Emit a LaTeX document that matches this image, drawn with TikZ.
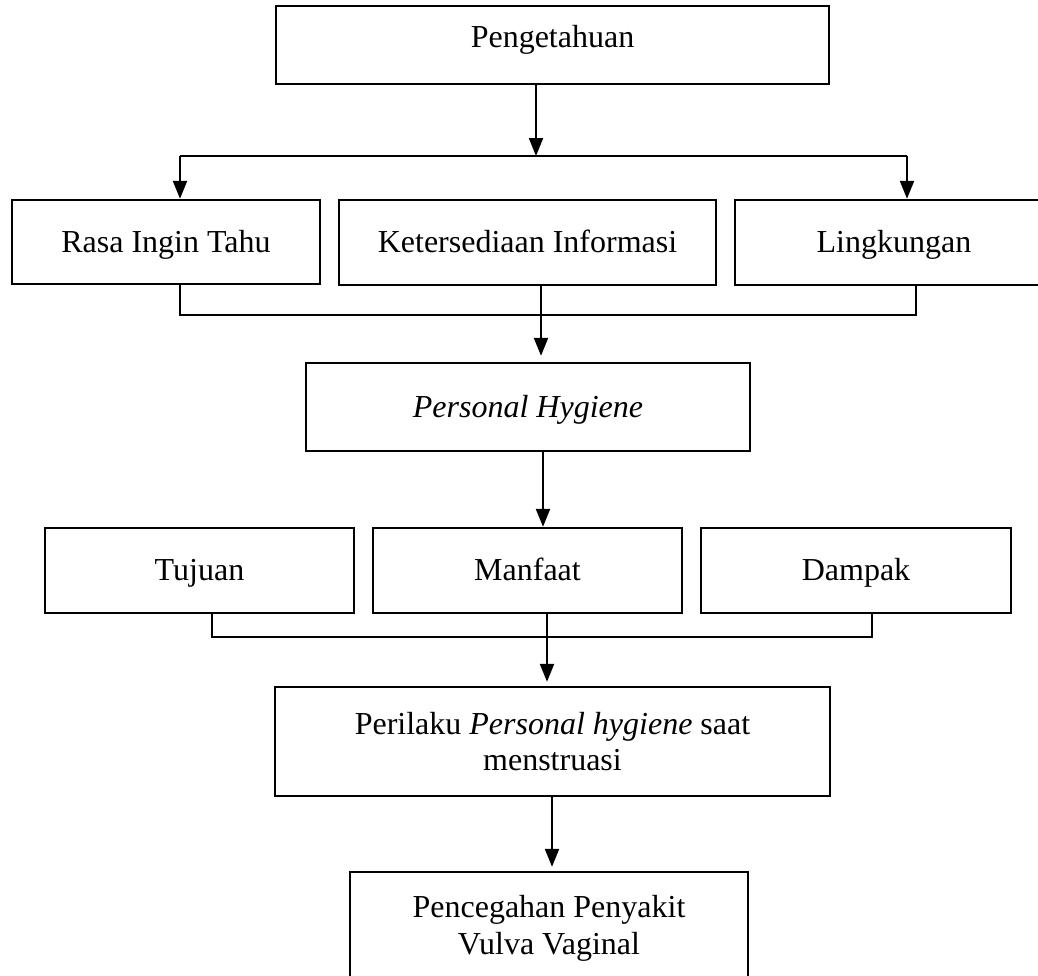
\documentclass[tikz,border=0pt]{standalone}
\usepackage{fontspec}
\setmainfont{Liberation Serif}
\usetikzlibrary{arrows.meta, calc}

\tikzset{
    kotak/.style={draw=black, line width=1.2pt, inner sep=0pt, align=center,
        font=\fontsize{16}{18.3}\selectfont},
    satu/.style={text height=10.5pt, text depth=0.5pt},
    panah/.style={line width=1.1pt, -{Triangle[length=9pt,width=7pt]}},
    garis/.style={line width=1.1pt}
}

\begin{document}
\begin{tikzpicture}[x=0.5pt,y=-0.5pt]
        \useasboundingbox (0,0) rectangle (1038,975);

        \node[kotak, text height=9pt, text depth=7pt, minimum width=276.5pt, minimum height=39pt] (peng) at (552.5,45) {Pengetahuan};

        \node[kotak, satu, minimum width=154pt, minimum height=42pt] (rasa) at (166,242) {Rasa Ingin Tahu};
        \node[kotak, satu, minimum width=188.5pt, minimum height=42.5pt] (info) at (527.5,242.5) {Ketersediaan Informasi};
        \node[kotak, satu, minimum width=159pt, minimum height=42.5pt] (ling) at (894,242.5) {Lingkungan};

        \node[kotak, satu, minimum width=222pt, minimum height=44pt] (ph) at (528,407) {\textit{Personal Hygiene}};

        \node[kotak, satu, minimum width=154.5pt, minimum height=42.5pt] (tujuan) at (199.5,570.5) {Tujuan};
        \node[kotak, satu, minimum width=154.5pt, minimum height=42.5pt] (manfaat) at (527.5,570.5) {Manfaat};
        \node[kotak, satu, minimum width=155pt, minimum height=42.5pt] (dampak) at (856,570.5) {Dampak};

        \node[kotak, minimum width=277.5pt, minimum height=54.5pt] (perilaku) at (552.5,741.5) {Perilaku \textit{Personal hygiene} saat\\menstruasi};

        \node[kotak, minimum width=199pt, minimum height=56.5pt] (cegah) at (549,928.5) {Pencegahan Penyakit\\Vulva Vaginal};

        % titik belok
        \coordinate (tengah1) at (536,156);
        \coordinate (kiri1) at (180,156);
        \coordinate (kanan1) at (907,156);
        \coordinate (kiri2) at (180,315);
        \coordinate (kanan2) at (916,315);
        \coordinate (tengah2) at (541,315);
        \coordinate (tengah3) at (543,490);
        \coordinate (kiri3) at (212,637);
        \coordinate (kanan3) at (872,637);
        \coordinate (tengah4) at (547,637);
        \coordinate (tengah5) at (552,830);

        \draw[panah] (tengah1 |- peng.south) -- (tengah1);
        \draw[garis] (kiri1) -- (kanan1);
        \draw[panah] (kiri1) -- (kiri1 |- rasa.north);
        \draw[panah] (kanan1) -- (kanan1 |- ling.north);

        \draw[garis] (kiri2 |- rasa.south) -- (kiri2) -- (kanan2) -- (kanan2 |- ling.south);
        \draw[panah, shorten >=3pt] (tengah2 |- info.south) -- (tengah2 |- ph.north);

        \draw[panah] (tengah3 |- ph.south) -- (tengah3 |- manfaat.north);

        \draw[garis] (kiri3 |- tujuan.south) -- (kiri3) -- (kanan3) -- (kanan3 |- dampak.south);
        \draw[panah, shorten >=2pt] (tengah4 |- manfaat.south) -- (tengah4 |- perilaku.north);

        \draw[panah, shorten >=2pt] (tengah5 |- perilaku.south) -- (tengah5 |- cegah.north);
    \end{tikzpicture}
\end{document}
